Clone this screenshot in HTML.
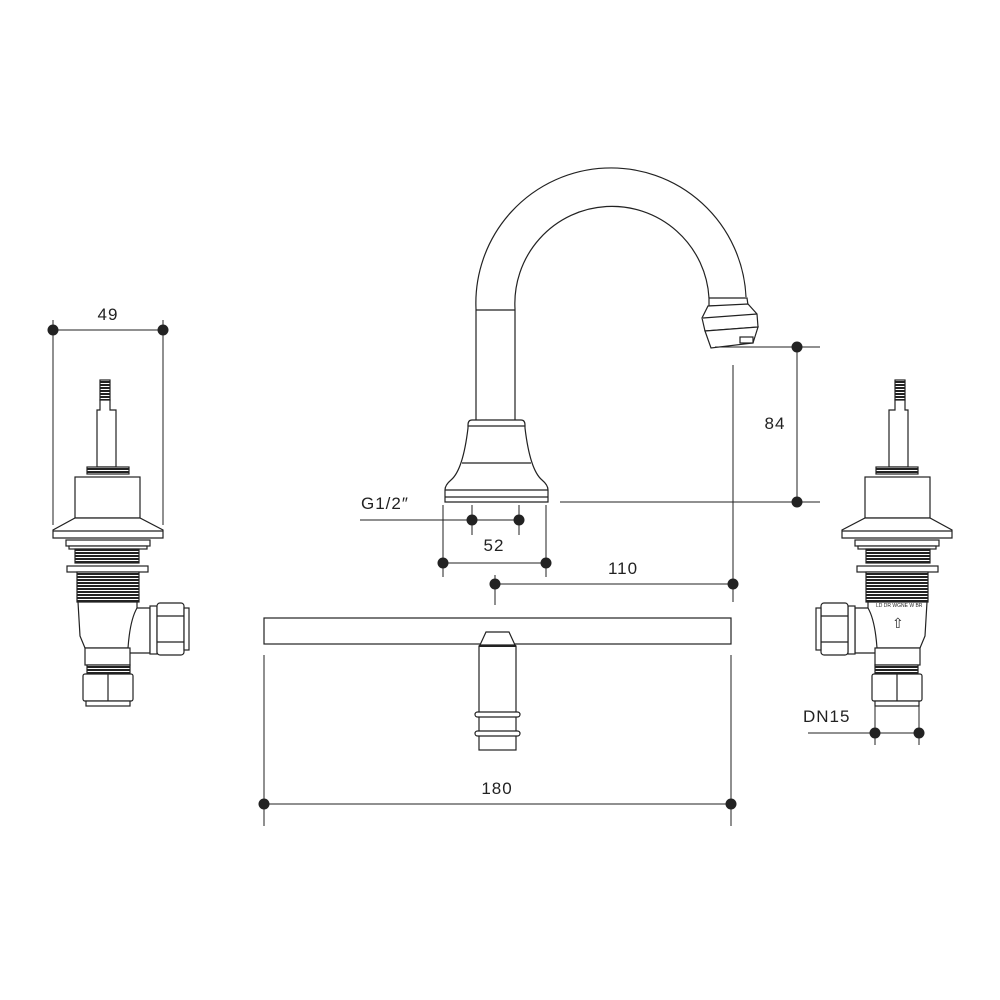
<!DOCTYPE html>
<html><head><meta charset="utf-8"><style>
html,body{margin:0;padding:0;background:#fff}
svg{display:block}
text{font-family:"Liberation Sans",sans-serif;font-size:17px;fill:#222;letter-spacing:1px}
</style></head><body>
<svg width="1000" height="1000" viewBox="0 0 1000 1000" xmlns="http://www.w3.org/2000/svg">
<defs>
<pattern id="thr" width="4" height="3" patternUnits="userSpaceOnUse"><rect width="4" height="3" fill="#fff"/><rect width="4" height="2" fill="#222"/></pattern>
<g id="valve" fill="#fff" stroke="#222" stroke-width="1.2">
  <rect x="100" y="380" width="10" height="20" fill="url(#thr)"/>
  <polygon points="100,400 110,400 110,410 116,410 116,467 97,467 97,410 100,410"/>
  <rect x="87" y="467" width="42" height="7" fill="url(#thr)"/>
  <rect x="75" y="477" width="65" height="41"/>
  <polygon points="75,518 140,518 163,530 163,538 53,538 53,530"/>
  <line x1="53" y1="531" x2="163" y2="531"/>
  <rect x="66" y="540" width="84" height="6"/>
  <rect x="69" y="546" width="78" height="3"/>
  <rect x="75" y="549" width="64" height="14" fill="url(#thr)"/>
  <rect x="67" y="566" width="81" height="6"/>
  <rect x="77" y="572" width="62" height="30" fill="url(#thr)"/>
  <path d="M78,602 H137 V635 L128,648 H85 L80,636 Z"/>
  <path d="M137,608 H150 V653 H130 L128,648 Q130,620 137,608 Z"/>
  <rect x="150" y="606" width="7" height="48"/>
  <rect x="157" y="603" width="27" height="52" rx="3"/>
  <line x1="157" y1="616" x2="184" y2="616"/><line x1="157" y1="642" x2="184" y2="642"/>
  <rect x="184" y="608" width="5" height="42"/>
  <rect x="85" y="648" width="45" height="17"/>
  <rect x="87" y="665" width="43" height="9" fill="url(#thr)"/>
  <rect x="83" y="674" width="50" height="27" rx="2"/>
  <line x1="108" y1="674" x2="108" y2="701"/>
  <rect x="86" y="701" width="44" height="5"/>
</g>
</defs>
<g fill="none" stroke="#222" stroke-width="1.2">
<!-- left valve -->
<use href="#valve"/>
<!-- right valve mirrored -->
<use href="#valve" transform="translate(1005,0) scale(-1,1)"/>
<!-- spout -->
<path d="M476,420 V309 A135,135 0 0 1 746,297" fill="#fff"/>
<path d="M515,420 V309 A97,97 0 0 1 709,298"/>
<line x1="476" y1="310" x2="515" y2="310"/>
<polygon points="709,298 747,298 748,305 709,306" fill="#fff"/>
<polygon points="708,306 748,304 757,314 758,327 705,331 702,318" fill="#fff"/>
<polygon points="705,331 758,327 753,343 711,348" fill="#fff"/>
<line x1="703" y1="318" x2="757" y2="314"/>
<rect x="740" y="337" width="13" height="6"/>
<!-- base bell -->
<path d="M472,420 H521 Q525,420 525,425 V428 Q530,470 542,480 Q548,485 548,490 V502 H445 V490 Q445,485 451,480 Q463,470 468,428 V425 Q468,420 472,420 Z" fill="#fff"/>
<line x1="468" y1="426" x2="525" y2="426"/>
<line x1="462" y1="463" x2="531" y2="463"/>
<line x1="445" y1="490" x2="548" y2="490"/>
<line x1="445" y1="497" x2="548" y2="497"/>
<!-- bottom bar and shank -->
<rect x="264" y="618" width="467" height="26"/>
<polygon points="486,632 509,632 515,645 480,645" fill="#fff"/>
<rect x="479" y="646" width="37" height="104" fill="#fff"/>
<line x1="479" y1="646" x2="516" y2="646" stroke-width="2"/>
<rect x="475" y="712" width="45" height="5" rx="2.5" fill="#fff"/>
<rect x="475" y="731" width="45" height="5" rx="2.5" fill="#fff"/>
<!-- dimension lines -->
<g stroke-width="1">
<line x1="53" y1="320" x2="53" y2="525"/><line x1="163" y1="320" x2="163" y2="525"/>
<line x1="53" y1="330" x2="163" y2="330"/>
<line x1="715" y1="347" x2="820" y2="347"/><line x1="560" y1="502" x2="820" y2="502"/>
<line x1="797" y1="347" x2="797" y2="502"/>
<line x1="733" y1="365" x2="733" y2="602"/><line x1="495" y1="575" x2="495" y2="605"/>
<line x1="495" y1="584" x2="733" y2="584"/>
<line x1="443" y1="505" x2="443" y2="577"/><line x1="546" y1="505" x2="546" y2="577"/>
<line x1="443" y1="563" x2="546" y2="563"/>
<line x1="360" y1="520" x2="519" y2="520"/>
<line x1="472" y1="505" x2="472" y2="535"/><line x1="519" y1="505" x2="519" y2="535"/>
<line x1="264" y1="655" x2="264" y2="826"/><line x1="731" y1="655" x2="731" y2="826"/>
<line x1="264" y1="804" x2="731" y2="804"/>
<line x1="808" y1="733" x2="919" y2="733"/>
<line x1="875" y1="705" x2="875" y2="745"/><line x1="919" y1="705" x2="919" y2="745"/>
</g>
</g>
<g fill="#222">
<circle cx="53" cy="330" r="5.5"/><circle cx="163" cy="330" r="5.5"/>
<circle cx="797" cy="347" r="5.5"/><circle cx="797" cy="502" r="5.5"/>
<circle cx="733" cy="584" r="5.5"/><circle cx="495" cy="584" r="5.5"/>
<circle cx="443" cy="563" r="5.5"/><circle cx="546" cy="563" r="5.5"/>
<circle cx="472" cy="520" r="5.5"/><circle cx="519" cy="520" r="5.5"/>
<circle cx="264" cy="804" r="5.5"/><circle cx="731" cy="804" r="5.5"/>
<circle cx="875" cy="733" r="5.5"/><circle cx="919" cy="733" r="5.5"/>
</g>
<text x="108" y="320" text-anchor="middle">49</text>
<text x="775" y="429" text-anchor="middle">84</text>
<text x="623" y="574" text-anchor="middle">110</text>
<text x="494" y="551" text-anchor="middle">52</text>
<text x="361" y="509">G1/2″</text>
<text x="497" y="794" text-anchor="middle">180</text>
<text x="803" y="722">DN15</text>
<text x="876" y="607" style="font-size:5px;letter-spacing:0">LD DR WGNE W BR</text>
<text x="892" y="628" style="font-size:14px;letter-spacing:0">⇧</text>
</svg>
</body></html>
